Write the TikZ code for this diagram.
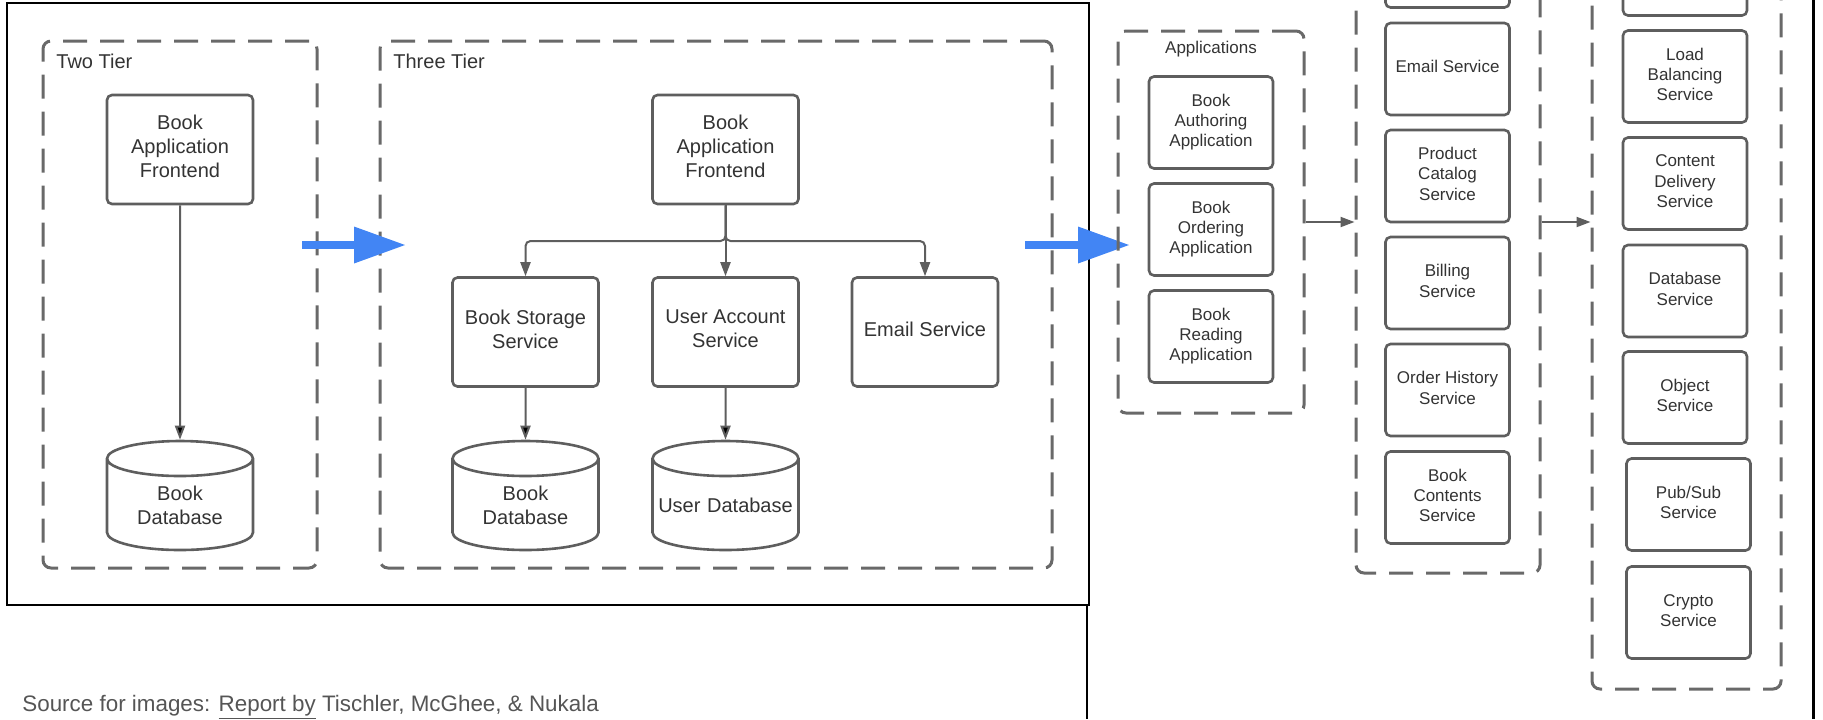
\documentclass[tikz,border=0pt]{standalone}
\usepackage{fontspec}
\setmainfont{Liberation Sans}
\usepackage{tikz}
\usetikzlibrary{shapes,arrows.meta,positioning,calc}
\definecolor{linegray}{HTML}{5E5E5E}
\definecolor{dashgray}{HTML}{696969}
\definecolor{txtgray}{HTML}{333333}
\definecolor{capgray}{HTML}{555555}
\definecolor{tierblue}{HTML}{4285F4}
\tikzstyle{box}=[rectangle, draw=linegray, line width=1.3pt, rounded corners=2.5pt, text=txtgray, align=center, inner sep=1pt, text depth=3pt, minimum width=73pt, minimum height=54.5pt, font=\fontsize{10}{12}\selectfont]
\tikzstyle{sbox}=[box, minimum width=62pt, minimum height=46pt, text depth=2.2pt, font=\fontsize{8.5}{10.2}\selectfont]
\tikzstyle{db}=[cylinder, shape border rotate=90, aspect=0.25, draw=linegray, line width=1.3pt, text=txtgray, align=center, text width=68pt, inner sep=1pt, text height=6pt, minimum width=73pt, minimum height=54.5pt, anchor=shape center, font=\fontsize{10}{12}\selectfont]
\tikzstyle{tier}=[rectangle, draw=dashgray, line width=1.5pt, dash pattern=on 12pt off 6.5pt, rounded corners=4pt]

\begin{document}
\begin{tikzpicture}[x=0.5pt,y=-0.5pt,
  tag/.style={text=txtgray, inner sep=0pt, font=\fontsize{10}{12}\selectfont},
  conn/.style={draw=linegray, line width=1pt, -{Triangle[length=7pt,width=5pt]}},
  bigarrow/.style={draw=tierblue, line width=4pt, -{Triangle[length=25.5pt,width=18.5pt,line width=0pt]}}]
\useasboundingbox (0,0) rectangle (1823,719);
\clip (0,0) rectangle (1823,719);

\draw[line width=1.25pt] (7,3) rectangle (1089,605);
\draw[line width=1.25pt] (1087,605) -- (1087,719);
\draw[line width=1.5pt] (1813,0) -- (1813,719);

\node (twotier) at (180,304.5)[tier, minimum width=137pt, minimum height=263.5pt] {};
\node (threetier) at (716,304.5)[tier, minimum width=336pt, minimum height=263.5pt] {};
\node (twolbl) at (56,68)[anchor=base west, tag] {Two Tier};
\node (threelbl) at (393,68)[anchor=base west, tag] {Three Tier};

\node (fe2) at (180,149.5)[box] {Book\\Application\\Frontend};
\node (db2) at (180,495.5)[db] {Book\\Database};
\draw[conn] (fe2) edge (db2);

\node (fe3) at (725.5,149.5)[box] {Book\\Application\\Frontend};
\node (bs3) at (525.5,332)[box] {Book Storage\\Service};
\node (ua3) at (725.5,332)[box] {User Account\\Service};
\node (em3) at (925,332)[box] {Email Service};
\node (bdb3) at (525.5,495.5)[db] {Book\\Database};
\node (udb3) at (725.5,495.5)[db] {User Database};
\coordinate (split) at (725.5,241);
\draw[conn, rounded corners=2.5pt] (fe3) -- (split) -| (bs3);
\draw[conn, rounded corners=2.5pt] (fe3) -- (split) -| (em3);
\draw[conn] (fe3) -- (ua3);
\draw[conn] (bs3) edge (bdb3);
\draw[conn] (ua3) edge (udb3);

\coordinate (s1a) at (302,245);
\coordinate (s1b) at (405,245);
\coordinate (s2a) at (1025,245);
\coordinate (s2b) at (1129,245);
\draw[bigarrow] (s1a) -- (s1b);
\draw[bigarrow] (s2a) -- (s2b);

\node (apps) at (1211,222)[tier, minimum width=93pt, minimum height=191pt] {};
\node (applbl) at (1211,53)[anchor=base, tag, font=\fontsize{8.5}{10.2}\selectfont] {Applications};
\node (app1) at (1211,122.5)[sbox] {Book\\Authoring\\Application};
\node (app2) at (1211,229.5)[sbox] {Book\\Ordering\\Application};
\node (app3) at (1211,336.5)[sbox] {Book\\Reading\\Application};

\node (svcs) at (1448,211.5)[tier, minimum width=92pt, minimum height=361.5pt] {};
\node (svc0) at (1447.5,-38.5)[sbox] {};
\node (svc1) at (1447.5,69)[sbox] {Email Service};
\node (svc2) at (1447.5,176)[sbox] {Product\\Catalog\\Service};
\node (svc3) at (1447.5,283)[sbox] {Billing\\Service};
\node (svc4) at (1447.5,390)[sbox] {Order History\\Service};
\node (svc5) at (1447.5,497.5)[sbox] {Book\\Contents\\Service};

\node (infra) at (1686.5,269.5)[tier, minimum width=94.5pt, minimum height=419.5pt] {};
\node (inf0) at (1685,-30.5)[sbox] {};
\node (inf1) at (1685,76.5)[sbox] {Load\\Balancing\\Service};
\node (inf2) at (1685,183.5)[sbox] {Content\\Delivery\\Service};
\node (inf3) at (1685,291)[sbox] {Database\\Service};
\node (inf4) at (1685,397.5)[sbox] {Object\\Service};
\node (inf5) at (1688.5,504.5)[sbox] {Pub/Sub\\Service};
\node (inf6) at (1688.5,612.5)[sbox] {Crypto\\Service};

\draw[conn] (apps.east) -- (apps.east -| svcs.west);
\draw[conn] (svcs.east |- apps.east) -- (infra.west |- apps.east);

\node (src) at (22,711)[anchor=base west, text=capgray, inner sep=0pt, font=\fontsize{11.2}{13}\selectfont] {Source for images: \underline{Report by} Tischler, McGhee, \& Nukala};
\end{tikzpicture}
\end{document}
